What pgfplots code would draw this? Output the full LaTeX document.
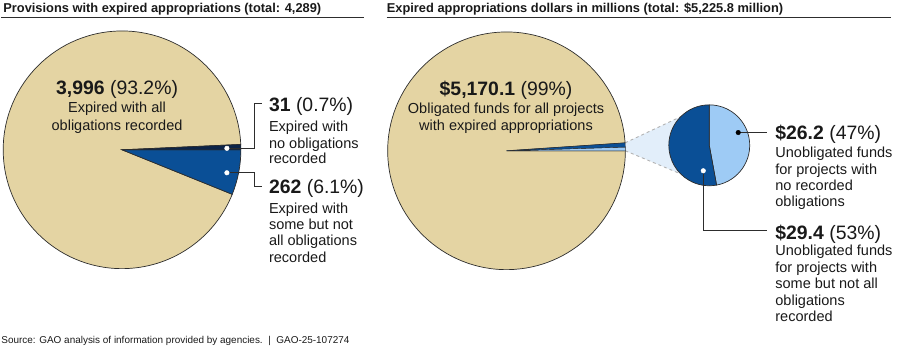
\documentclass[border=0pt]{standalone}
\usepackage{pgfplots}
\pgfplotsset{compat=1.18}
\usepackage{fontspec}
\setmainfont{Liberation Sans}
\definecolor{tanc}{RGB}{228,212,163}
\definecolor{dblue}{RGB}{10,79,150}
\definecolor{navy}{RGB}{12,36,72}
\definecolor{lblue}{RGB}{158,203,245}
\definecolor{connc}{RGB}{226,238,250}
\definecolor{outl}{RGB}{45,45,45}
\definecolor{txt}{RGB}{25,25,25}
\newcommand{\hd}{\fontsize{19.5}{21}\selectfont}
\newcommand{\bd}{\fontsize{14.6}{16.5}\selectfont}
\begin{document}
\begin{tikzpicture}
\begin{axis}[x=1bp, y=1bp, xmin=0, xmax=900, ymin=0, ymax=348, hide axis, clip=false]
\path (axis cs:0,0) rectangle (axis cs:900,348);
% ---------- titles ----------
\node[anchor=base west, inner sep=0, text=txt, font=\bfseries\fontsize{12.9}{15}\selectfont] at (axis cs:2,335.3) {Provisions with expired appropriations (total: 4,289)};
\node[anchor=base west, inner sep=0, text=txt, font=\bfseries\fontsize{12.9}{15}\selectfont] at (axis cs:386,335.3) {Expired appropriations dollars in millions (total: \$5,225.8 million)};
\addplot[outl, line width=1bp] coordinates {(0,330) (363,330)};
\addplot[outl, line width=1bp] coordinates {(386,330) (891,330)};
% ---------- left pie: 3,996 / 31 / 262 of 4,289 ; centre (121,198), r = 119 ----------
\addplot[fill=tanc, draw=outl, line width=0.7bp] coordinates {(121,198) (239.88,203.40)} arc[start angle=2.60, end angle=338.01, radius=119bp] -- cycle;
\addplot[fill=dblue, draw=outl, line width=0.7bp] coordinates {(121,198) (231.34,153.44)} arc[start angle=-21.99, end angle=0, radius=119bp] -- cycle;
\addplot[fill=navy, draw=outl, line width=0.6bp] coordinates {(121,198) (240,198)} arc[start angle=0, end angle=2.60, radius=119bp] -- cycle;
% leaders left
\addplot[outl, line width=0.8bp] coordinates {(226,199.5) (253.3,199.5) (253.3,244) (261,244)};
\addplot[outl, line width=0.8bp] coordinates {(226,175) (253.3,175) (253.3,161) (261,161)};
\addplot[only marks, mark=*, mark size=2.3bp, mark options={fill=white, draw=white}] coordinates {(226,199.5) (226,175)};
% ---------- right pie: 5,170.1 / 26.2 / 29.4 of 5,225.8 ; centre (506,197), r = 119 ----------
\addplot[fill=connc, draw=none] coordinates {(624.73,204.95) (680.36,231.14) (680.36,173.86) (625,197)} -- cycle;
\addplot[gray!60, dashed, line width=0.9bp] coordinates {(624.73,204.95) (680.36,231.14)};
\addplot[gray!60, dashed, line width=0.9bp] coordinates {(625,197) (680.36,173.86)};
\addplot[fill=tanc, draw=outl, line width=0.7bp] coordinates {(506,197) (624.73,204.95)} arc[start angle=3.83, end angle=360, radius=119bp] -- cycle;
\addplot[fill=lblue, draw=outl, line width=0.4bp] coordinates {(506,197) (625,197)} arc[start angle=0, end angle=1.805, radius=119bp] -- cycle;
\addplot[fill=dblue, draw=outl, line width=0.4bp] coordinates {(506,197) (624.94,200.75)} arc[start angle=1.805, end angle=3.83, radius=119bp] -- cycle;
% exploded pie: 26.2 / 29.4 ; centre (709,202.5), r = 40.5
\addplot[fill=lblue, draw=outl, line width=0.7bp] coordinates {(709,202.5) (716.31,162.67)} arc[start angle=-79.6, end angle=90, radius=40.5bp] -- cycle;
\addplot[fill=dblue, draw=outl, line width=0.7bp] coordinates {(709,202.5) (709,243)} arc[start angle=90, end angle=280.4, radius=40.5bp] -- cycle;
% leaders right
\addplot[outl, line width=0.8bp] coordinates {(738,215.3) (767,215.3)};
\addplot[outl, line width=0.8bp] coordinates {(703,177) (703,117.5) (767,117.5)};
\addplot[only marks, mark=*, mark size=2.3bp, mark options={fill=black, draw=black}] coordinates {(738,215.3)};
\addplot[only marks, mark=*, mark size=2.3bp, mark options={fill=white, draw=white}] coordinates {(703,177)};
% ---------- labels left ----------
\begin{scope}[every node/.style={inner sep=0, text=txt}]
\node[anchor=base, font=\hd] at (axis cs:116,253) {\textbf{3,996} (93.2\%)};
\node[anchor=base, font=\bd] at (axis cs:116,235) {Expired with all};
\node[anchor=base, font=\bd] at (axis cs:116,217) {obligations recorded};
\node[anchor=base west, font=\hd] at (axis cs:268,236) {\textbf{31} (0.7\%)};
\node[anchor=base west, font=\bd] at (axis cs:268,216.3) {Expired with};
\node[anchor=base west, font=\bd] at (axis cs:268,199.7) {no obligations};
\node[anchor=base west, font=\bd] at (axis cs:268,184) {recorded};
\node[anchor=base west, font=\hd] at (axis cs:268,154) {\textbf{262} (6.1\%)};
\node[anchor=base west, font=\bd] at (axis cs:268,134.7) {Expired with};
\node[anchor=base west, font=\bd] at (axis cs:268,118) {some but not};
\node[anchor=base west, font=\bd] at (axis cs:268,102) {all obligations};
\node[anchor=base west, font=\bd] at (axis cs:268,85) {recorded};
% ---------- labels right ----------
\node[anchor=base, font=\hd] at (axis cs:505.5,252) {\textbf{\$5,170.1} (99\%)};
\node[anchor=base, font=\bd] at (axis cs:505.5,234) {Obligated funds for all projects};
\node[anchor=base, font=\bd] at (axis cs:505.5,217) {with expired appropriations};
\node[anchor=base west, font=\hd] at (axis cs:775,208.3) {\textbf{\$26.2} (47\%)};
\node[anchor=base west, font=\bd] at (axis cs:775,190.3) {Unobligated funds};
\node[anchor=base west, font=\bd] at (axis cs:775,173.5) {for projects with};
\node[anchor=base west, font=\bd] at (axis cs:775,157) {no recorded};
\node[anchor=base west, font=\bd] at (axis cs:775,141) {obligations};
\node[anchor=base west, font=\hd] at (axis cs:775,108.3) {\textbf{\$29.4} (53\%)};
\node[anchor=base west, font=\bd] at (axis cs:775,92) {Unobligated funds};
\node[anchor=base west, font=\bd] at (axis cs:775,75.5) {for projects with};
\node[anchor=base west, font=\bd] at (axis cs:775,59) {some but not all};
\node[anchor=base west, font=\bd] at (axis cs:775,42.5) {obligations};
\node[anchor=base west, font=\bd] at (axis cs:775,26) {recorded};
% ---------- source ----------
\node[anchor=base west, font=\fontsize{10}{11}\selectfont] at (axis cs:0,4.5) {Source: GAO analysis of information provided by agencies.\ \ |\ \ GAO-25-107274};
\end{scope}
\end{axis}
\end{tikzpicture}
\end{document}
